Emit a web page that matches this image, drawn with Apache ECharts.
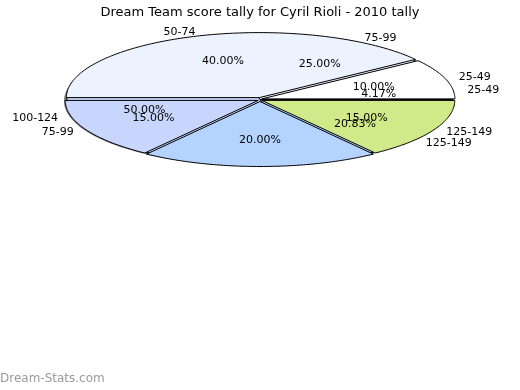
<!DOCTYPE html>
<html><head><meta charset="utf-8">
<script src="https://cdn.jsdelivr.net/npm/echarts@6/dist/echarts.min.js"></script>
<style>html,body{margin:0;padding:0;background:#fff}#c{width:520px;height:390px}</style>
</head><body><div id="c"></div>
<script>
const titleText = 'Dream Team score tally for Cyril Rioli - 2010 tally';
const categoriesA = ['25-49', '50-74', '75-99', '100-124', '125-149'];
const valuesA = [2, 8, 3, 4, 3];
const colorsA = ['#ffffff', '#edf2ff', '#c8d6fe', '#b4d4ff', '#d0ea89'];
const hiddenNameA = ['100-124'];
const categoriesB = ['25-49', '75-99', '100-124', '125-149'];
const valuesB = [1, 6, 12, 5];
const colorsB = ['#ffffff', '#edf2ff', '#c8d6fe', '#b4d4ff'];

const CX = 260, CY = 99.5, RX = 193, RY = 65, EXP = 2;
const FONT = 'DejaVu Sans';

function angles(vals) {
  const sum = vals.reduce((a, b) => a + b, 0);
  let acc = 0;
  return vals.map(v => { const a0 = acc / sum * 360; acc += v; return [a0, acc / sum * 360, v / sum]; });
}
function ept(a, r, ox, oy) {
  const t = a * Math.PI / 180;
  return [CX + ox + RX * r * Math.cos(t), CY + oy - RY * r * Math.sin(t)];
}
function sector(a0, a1, off) {
  const mid = (a0 + a1) / 2 * Math.PI / 180;
  const ox = off * Math.cos(mid), oy = -off * Math.sin(mid);
  const pts = [[CX + ox, CY + oy]];
  const n = Math.max(2, Math.ceil(a1 - a0));
  for (let i = 0; i <= n; i++) pts.push(ept(a0 + (a1 - a0) * i / n, 1, ox, oy));
  return pts;
}
function pieSeries(vals, colors, off, z) {
  const ang = angles(vals);
  return {
    type: 'custom', coordinateSystem: 'none', z: z, silent: true,
    data: vals.map((v, i) => [i, v]),
    renderItem: function (params) {
      const a = ang[params.dataIndex];
      return { type: 'polygon', shape: { points: sector(a[0], a[1], off) },
        style: { fill: colors[params.dataIndex], stroke: '#000', lineWidth: 1 } };
    }
  };
}
function labelSeries(vals, names, hidden, z) {
  const ang = angles(vals);
  return {
    type: 'custom', coordinateSystem: 'none', z: z, silent: true,
    data: vals.map((v, i) => [i, v]),
    renderItem: function (params) {
      const a = ang[params.dataIndex];
      const mid = (a[0] + a[1]) / 2;
      const t = mid * Math.PI / 180;
      const ip = ept(mid, 0.62, 0, 0);
      const op = ept(mid, 1, 0, 0);
      const c = Math.cos(t), s = Math.sin(t);
      const children = [{
        type: 'text', x: ip[0], y: ip[1],
        style: { text: (a[2] * 100).toFixed(2) + '%', fill: '#000', font: '11px ' + FONT, align: 'center', verticalAlign: 'middle' }
      }];
      const nm = names[params.dataIndex];
      if (hidden.indexOf(nm) < 0) {
        children.push({
          type: 'text', x: op[0] + 16 * c, y: op[1] - 6 * s,
          style: { text: nm, fill: '#000', font: '11px ' + FONT, align: c >= 0 ? 'left' : 'right', verticalAlign: 'middle' }
        });
      }
      return { type: 'group', children: children };
    }
  };
}
const shadowPts = [];
for (let i = 0; i <= 360; i++) { const p = ept(i, 1, -3, 1.5); shadowPts.push(p); }

const chart = echarts.init(document.getElementById('c'), null, { renderer: 'canvas' });
chart.setOption({
  animation: false,
  backgroundColor: '#fff',
  title: { text: titleText, left: 'center', top: 1, textStyle: { fontFamily: FONT, fontSize: 13, fontWeight: 'normal', color: '#000' } },
  graphic: [
    { type: 'polygon', z: 0, shape: { points: shadowPts }, style: { fill: '#7a7a7a' } },
    { type: 'text', left: 0, top: 373, style: { text: 'Dream-Stats.com', fill: '#9a9a9a', font: '12px ' + FONT } }
  ],
  series: [
    pieSeries(valuesB, colorsB, 0, 2),
    pieSeries(valuesA, colorsA, EXP, 3),
    labelSeries(valuesB, categoriesB, [], 5),
    labelSeries(valuesA, categoriesA, hiddenNameA, 6)
  ]
});
</script></body></html>
